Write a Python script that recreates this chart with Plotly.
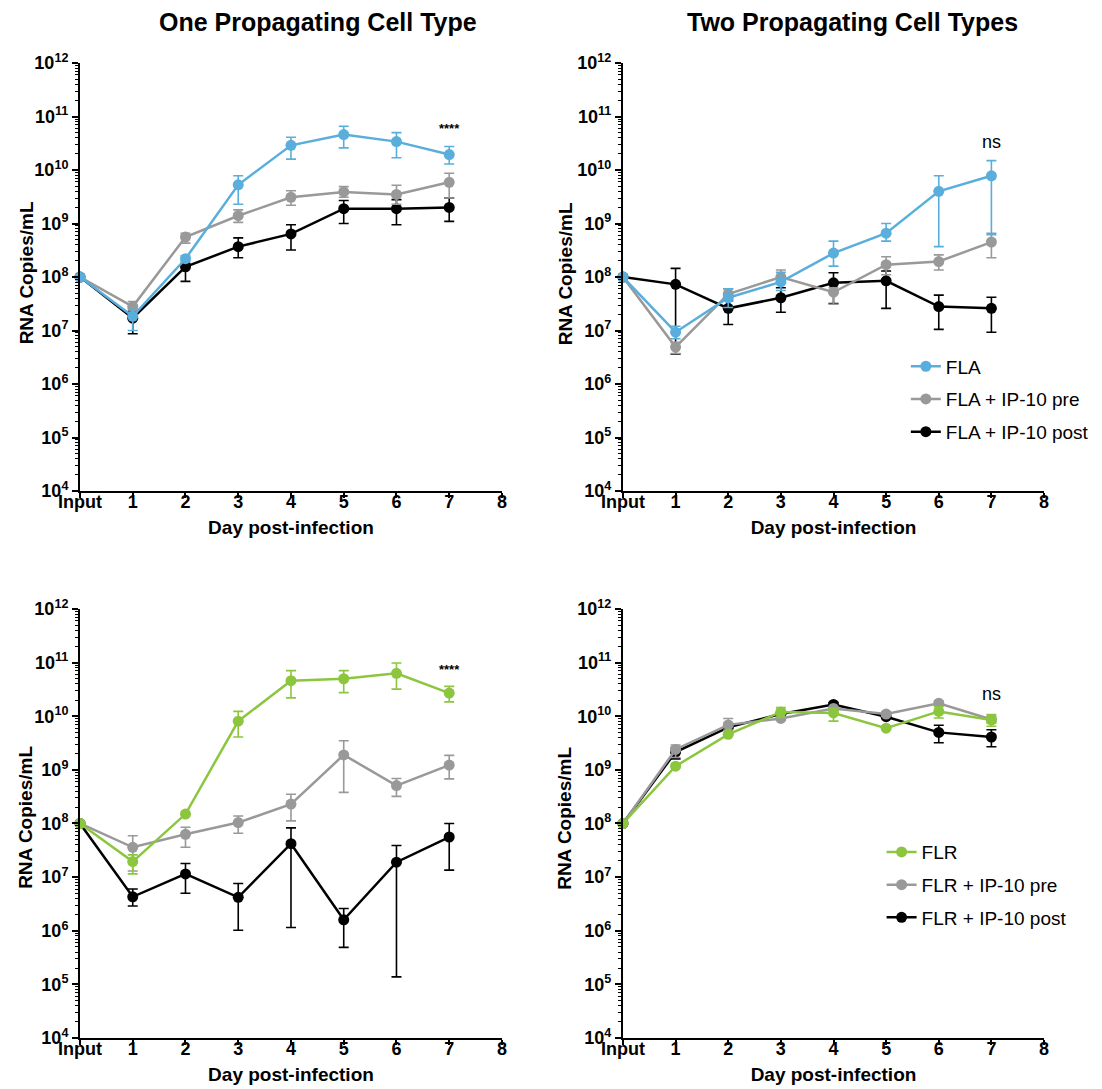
import plotly.graph_objects as go

# ---------------- data ----------------
days = [0, 1, 2, 3, 4, 5, 6, 7]
day_labels = ["Input", "1", "2", "3", "4", "5", "6", "7", "8"]
day_ticks = [0, 1, 2, 3, 4, 5, 6, 7, 8]

# One propagating cell type - FLA
fla_one = [1e8, 1.85e7, 2.2e8, 5.3e9, 2.9e10, 4.6e10, 3.4e10, 1.95e10]
fla_one_lo = [1e8, 1.0e7, 2.0e8, 2.3e9, 1.6e10, 2.6e10, 1.7e10, 1.3e10]
fla_one_hi = [1e8, 2.5e7, 2.5e8, 7.8e9, 4.1e10, 6.6e10, 5.0e10, 2.75e10]
fla_pre_one = [1e8, 2.8e7, 5.6e8, 1.4e9, 3.1e9, 3.9e9, 3.5e9, 5.9e9]
fla_pre_one_lo = [1e8, 2.2e7, 4.3e8, 1.05e9, 2.2e9, 3.1e9, 2.3e9, 3.0e9]
fla_pre_one_hi = [1e8, 3.5e7, 6.6e8, 1.8e9, 4.1e9, 4.9e9, 5.2e9, 8.7e9]
fla_post_one = [1e8, 1.7e7, 1.55e8, 3.7e8, 6.4e8, 1.9e9, 1.9e9, 2.0e9]
fla_post_one_lo = [1e8, 8.7e6, 8.3e7, 2.3e8, 3.2e8, 1.0e9, 9.5e8, 1.1e9]
fla_post_one_hi = [1e8, 2.3e7, 1.8e8, 5.4e8, 9.5e8, 2.7e9, 2.8e9, 3.0e9]

# Two propagating cell types - FLA
fla_two = [1e8, 9.3e6, 4.1e7, 8.1e7, 2.8e8, 6.6e8, 4.0e9, 7.8e9]
fla_two_lo = [1e8, 7.0e6, 2.7e7, 5.6e7, 1.6e8, 4.7e8, 3.7e8, 6.2e8]
fla_two_hi = [1e8, 1.2e7, 6.0e7, 1.23e8, 4.7e8, 1.0e9, 7.8e9, 1.5e10]
fla_pre_two = [1e8, 4.9e6, 4.8e7, 1.0e8, 5.2e7, 1.7e8, 1.95e8, 4.5e8]
fla_pre_two_lo = [1e8, 3.7e6, 3.8e7, 8.0e7, 3.1e7, 1.1e8, 1.35e8, 2.3e8]
fla_pre_two_hi = [1e8, 6.0e6, 6.0e7, 1.35e8, 6.3e7, 2.4e8, 2.6e8, 6.6e8]
fla_post_two = [1e8, 7.3e7, 2.6e7, 4.1e7, 7.8e7, 8.5e7, 2.8e7, 2.6e7]
fla_post_two_lo = [1e8, 3.6e6, 1.3e7, 2.2e7, 3.2e7, 2.6e7, 1.05e7, 9.3e6]
fla_post_two_hi = [1e8, 1.45e8, 3.6e7, 6.3e7, 1.2e8, 1.3e8, 4.6e7, 4.2e7]

# One propagating cell type - FLR
flr_one = [1e8, 1.95e7, 1.5e8, 8.1e9, 4.6e10, 5.0e10, 6.3e10, 2.7e10]
flr_one_lo = [1e8, 1.15e7, 1.5e8, 4.1e9, 2.2e10, 2.75e10, 3.2e10, 1.85e10]
flr_one_hi = [1e8, 2.6e7, 1.5e8, 1.23e10, 7.1e10, 7.1e10, 9.8e10, 3.6e10]
flr_pre_one = [1e8, 3.6e7, 6.3e7, 1.04e8, 2.3e8, 1.9e9, 5.1e8, 1.23e9]
flr_pre_one_lo = [1e8, 1.3e7, 3.6e7, 6.6e7, 1.12e8, 3.8e8, 3.2e8, 6.8e8]
flr_pre_one_hi = [1e8, 5.9e7, 8.5e7, 1.38e8, 3.5e8, 3.5e9, 6.9e8, 1.86e9]
flr_post_one = [1e8, 4.3e6, 1.15e7, 4.2e6, 4.2e7, 1.6e6, 1.9e7, 5.6e7]
flr_post_one_lo = [1e8, 2.9e6, 5.0e6, 1.02e6, 1.15e6, 4.9e5, 1.38e5, 1.35e7]
flr_post_one_hi = [1e8, 6.0e6, 1.8e7, 7.6e6, 8.3e7, 2.6e6, 3.9e7, 1.0e8]

# Two propagating cell types - FLR
flr_two = [1e8, 1.17e9, 4.6e9, 1.2e10, 1.15e10, 6.0e9, 1.23e10, 8.5e9]
flr_two_lo = [1e8, 1.1e9, 4.4e9, 9.5e9, 8.1e9, 5.7e9, 9.3e9, 6.5e9]
flr_two_hi = [1e8, 1.25e9, 4.8e9, 1.45e10, 1.4e10, 6.3e9, 1.5e10, 1.07e10]
flr_pre_two = [1e8, 2.4e9, 6.9e9, 9.1e9, 1.4e10, 1.1e10, 1.75e10, 8.7e9]
flr_pre_two_lo = [1e8, 1.7e9, 5.5e9, 8.5e9, 1.3e10, 1.0e10, 1.6e10, 7.5e9]
flr_pre_two_hi = [1e8, 2.9e9, 9.1e9, 9.8e9, 1.5e10, 1.2e10, 1.9e10, 1.0e10]
flr_post_two = [1e8, 2.15e9, 6.2e9, 1.1e10, 1.66e10, 9.8e9, 5.0e9, 4.1e9]
flr_post_two_lo = [1e8, 1.6e9, 5.8e9, 1.0e10, 1.55e10, 9.3e9, 3.2e9, 2.7e9]
flr_post_two_hi = [1e8, 2.6e9, 6.6e9, 1.2e10, 1.8e10, 1.03e10, 6.8e9, 5.6e9]

y_tick_vals = [1e4, 1e5, 1e6, 1e7, 1e8, 1e9, 1e10, 1e11, 1e12]
y_tick_text = ["10<sup>4</sup>", "10<sup>5</sup>", "10<sup>6</sup>", "10<sup>7</sup>",
               "10<sup>8</sup>", "10<sup>9</sup>", "10<sup>10</sup>", "10<sup>11</sup>",
               "10<sup>12</sup>"]

panel_titles = ["One Propagating Cell Type", "Two Propagating Cell Types"]
y_title = "RNA Copies/mL"
x_title = "Day post-infection"
sig_labels = ["****", "ns", "****", "ns"]
sig_levels = [10.78, 10.52, 10.87, 10.42]

BLUE = "#5aaedb"
GREEN = "#8cc63f"
GRAY = "#999999"
BLACK = "#000000"
FONT = "Liberation Sans, Arial, sans-serif"

fig = go.Figure()

# axis domains (pixel-matched)
xdoms = {1: [0.0726, 0.4555], 2: [0.5653, 0.9474], 3: [0.0726, 0.4555], 4: [0.5653, 0.9474]}
ydoms = {1: [0.5491, 0.9421], 2: [0.5491, 0.9421], 3: [0.0468, 0.4408], 4: [0.0468, 0.4408]}
ytitle_pos = {1: (0.0236, 0.749), 2: (0.5127, 0.749), 3: (0.0236, 0.249), 4: (0.5127, 0.249)}


def add_series(panel, name, y, lo, hi, color, legend, show, rank):
    xa = "x" if panel == 1 else f"x{panel}"
    ya = "y" if panel == 1 else f"y{panel}"
    fig.add_trace(go.Scatter(
        x=days, y=y, name=name, mode="lines+markers",
        xaxis=xa, yaxis=ya,
        line=dict(color=color, width=2.5),
        marker=dict(color=color, size=11),
        error_y=dict(type="data", symmetric=False,
                     array=[h - v for h, v in zip(hi, y)],
                     arrayminus=[v - l for v, l in zip(y, lo)],
                     color=color, thickness=1.6, width=5),
        cliponaxis=False, showlegend=show, legend=legend,
        legendgroup=f"{legend}-p{panel}-{name}", legendrank=rank,
    ))


add_series(1, "FLA + IP-10 post", fla_post_one, fla_post_one_lo, fla_post_one_hi, BLACK, "legend", False, 3)
add_series(1, "FLA + IP-10 pre", fla_pre_one, fla_pre_one_lo, fla_pre_one_hi, GRAY, "legend", False, 2)
add_series(1, "FLA", fla_one, fla_one_lo, fla_one_hi, BLUE, "legend", False, 1)

add_series(2, "FLA + IP-10 post", fla_post_two, fla_post_two_lo, fla_post_two_hi, BLACK, "legend", True, 3)
add_series(2, "FLA + IP-10 pre", fla_pre_two, fla_pre_two_lo, fla_pre_two_hi, GRAY, "legend", True, 2)
add_series(2, "FLA", fla_two, fla_two_lo, fla_two_hi, BLUE, "legend", True, 1)

add_series(3, "FLR + IP-10 post", flr_post_one, flr_post_one_lo, flr_post_one_hi, BLACK, "legend2", False, 3)
add_series(3, "FLR + IP-10 pre", flr_pre_one, flr_pre_one_lo, flr_pre_one_hi, GRAY, "legend2", False, 2)
add_series(3, "FLR", flr_one, flr_one_lo, flr_one_hi, GREEN, "legend2", False, 1)

add_series(4, "FLR + IP-10 post", flr_post_two, flr_post_two_lo, flr_post_two_hi, BLACK, "legend2", True, 3)
add_series(4, "FLR + IP-10 pre", flr_pre_two, flr_pre_two_lo, flr_pre_two_hi, GRAY, "legend2", True, 2)
add_series(4, "FLR", flr_two, flr_two_lo, flr_two_hi, GREEN, "legend2", True, 1)

minor_vals = [m * 10 ** k for k in range(4, 12) for m in range(2, 10)]

layout = dict(
    width=1102, height=1089,
    margin=dict(l=0, r=0, t=0, b=0, autoexpand=False),
    paper_bgcolor="white", plot_bgcolor="white",
    font=dict(family=FONT, color="black"),
    legend=dict(x=0.822, y=0.681, xanchor="left", yanchor="top",
                traceorder="grouped", font=dict(size=19, family=FONT),
                bgcolor="rgba(0,0,0,0)", tracegroupgap=5, itemwidth=30),
    legend2=dict(x=0.800, y=0.235, xanchor="left", yanchor="top",
                 traceorder="grouped", font=dict(size=19, family=FONT),
                 bgcolor="rgba(0,0,0,0)", tracegroupgap=5, itemwidth=30),
)
for p in range(1, 5):
    sx = "xaxis" if p == 1 else f"xaxis{p}"
    sy = "yaxis" if p == 1 else f"yaxis{p}"
    ya = "y" if p == 1 else f"y{p}"
    xa = "x" if p == 1 else f"x{p}"
    layout[sx] = dict(
        domain=xdoms[p], anchor=ya, range=[0, 8], automargin=False,
        tickmode="array", tickvals=day_ticks, ticktext=day_labels,
        showline=True, linecolor="black", linewidth=2,
        ticks="outside", ticklen=5, tickwidth=2, tickcolor="black",
        ticklabelstandoff=-12,
        showgrid=False, zeroline=False,
        tickfont=dict(size=18, family=FONT, weight="bold"),
        title=dict(text=x_title, standoff=10,
                   font=dict(size=19, family=FONT, weight="bold")),
    )
    layout[sy] = dict(
        domain=ydoms[p], anchor=xa, type="log", range=[4, 12], automargin=False,
        tickmode="array", tickvals=y_tick_vals, ticktext=y_tick_text,
        showline=True, linecolor="black", linewidth=2,
        ticks="outside", ticklen=6, tickwidth=2, tickcolor="black",
        minor=dict(tickmode="array", tickvals=minor_vals, ticks="outside",
                   ticklen=3, tickwidth=1, tickcolor="black", showgrid=False),
        showgrid=False, zeroline=False,
        tickfont=dict(size=18, family=FONT, weight="bold"),
    )

fig.update_layout(**layout)

# y-axis titles
for p in range(1, 5):
    px, py = ytitle_pos[p]
    fig.add_annotation(text=y_title, x=px, y=py, xref="paper", yref="paper",
                       xanchor="center", yanchor="middle", textangle=-90,
                       showarrow=False, font=dict(size=19, family=FONT, weight="bold"))

# panel titles
fig.add_annotation(text=panel_titles[0], x=0.2886, y=0.98, xref="paper", yref="paper",
                   xanchor="center", yanchor="middle",
                   showarrow=False, font=dict(size=25, family=FONT, weight="bold"))
fig.add_annotation(text=panel_titles[1], x=0.774, y=0.98, xref="paper", yref="paper",
                   xanchor="center", yanchor="middle",
                   showarrow=False, font=dict(size=25, family=FONT, weight="bold"))

# significance labels
for p in range(1, 5):
    xa = "x" if p == 1 else f"x{p}"
    ya = "y" if p == 1 else f"y{p}"
    lab = sig_labels[p - 1]
    fig.add_annotation(text=lab, x=7, y=sig_levels[p - 1], xref=xa, yref=ya,
                       xanchor="center", yanchor="middle",
                       showarrow=False,
                       font=dict(size=13 if lab == "****" else 18, family=FONT,
                                 weight="bold" if lab == "****" else "normal"))

fig.write_html("out.html", config={"displayModeBar": False})
